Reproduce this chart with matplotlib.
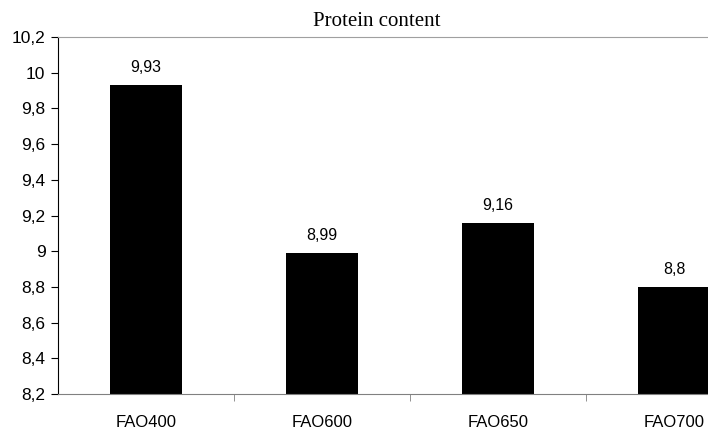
import numpy as np
from matplotlib import pyplot as plt

hybrids = ['FAO400', 'FAO600', 'FAO650', 'FAO700']
protein = [9.93, 8.99, 9.16, 8.8]
labels = ['9,93', '8,99', '9,16', '8,8']
yticks = [8.2, 8.4, 8.6, 8.8, 9.0, 9.2, 9.4, 9.6, 9.8, 10.0, 10.2]
ytick_labels = ['8,2', '8,4', '8,6', '8,8', '9', '9,2', '9,4', '9,6', '9,8', '10', '10,2']

plt.rcParams['font.family'] = ['Liberation Sans', 'DejaVu Sans']
fig = plt.figure(figsize=(7.08, 4.37), dpi=100)
# plot area runs off the right edge, last bar gets cut
ax = fig.add_axes([58/708, 43/437, 650/708, 357/437])
x = np.arange(len(hybrids))
ax.bar(x, protein, width=0.41, color='black', bottom=0)
for xi, v, t in zip(x, protein, labels):
    ax.annotate(t, (xi, v), xytext=(0, 7), textcoords='offset points',
                ha='center', va='bottom', fontsize=11.5)
ax.set_ylim(8.2, 10.2)
ax.set_xlim(-0.5, 3.193)
ax.set_yticks(yticks)
ax.set_yticklabels(ytick_labels, fontsize=12.5)
ax.set_xticks(x)
ax.set_xticklabels(hybrids, fontsize=12)
ax.set_xticks([0.5, 1.5, 2.5], minor=True)
ax.tick_params(axis='x', which='major', length=0, pad=15)
ax.tick_params(axis='x', which='minor', length=5, color='#808080', direction='out')
ax.tick_params(axis='y', length=5, direction='out', color='black', pad=4)
ax.spines['right'].set_visible(False)
ax.spines['top'].set_color('#a0a0a0')
ax.spines['bottom'].set_color('#808080')
ax.spines['left'].set_color('black')
fig.text(377/708, 1 - 21/437, 'Protein content', ha='center', va='center',
         fontsize=15, family='Liberation Serif')
plt.savefig('out.png', dpi=100)
